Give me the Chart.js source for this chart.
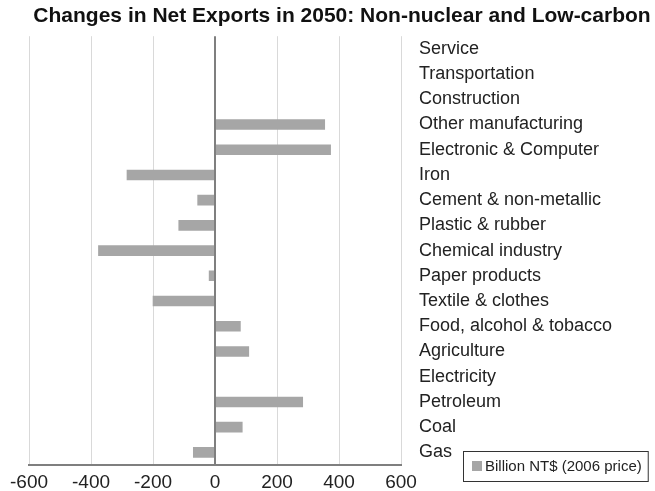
<!DOCTYPE html>
<html>
<head>
<meta charset="utf-8">
<script src="https://cdn.jsdelivr.net/npm/chart.js@4/dist/chart.umd.min.js"></script>
<style>
  html, body { margin: 0; padding: 0; background: #fff; }
  canvas { display: block; }
</style>
</head>
<body>
<canvas id="exportChart" width="655" height="491"></canvas>
<script>
const sectors = [
    'Service', 'Transportation', 'Construction', 'Other manufacturing',
    'Electronic & Computer', 'Iron', 'Cement & non-metallic', 'Plastic & rubber',
    'Chemical industry', 'Paper products', 'Textile & clothes',
    'Food, alcohol & tobacco', 'Agriculture', 'Electricity', 'Petroleum', 'Coal', 'Gas'
];
const netExports = [0, 0, 0, 355, 374, -285, -57, -118, -377, -20, -201, 83, 110, 0, 284, 89, -71];
const xTicks = [-600, -400, -200, 0, 200, 400, 600];
const seriesName = 'Billion NT$ (2006 price)';

const FONT = "'Liberation Sans', Arial, sans-serif";

// 범례 박스 (오른쪽 아래)
const boxLegend = {
    id: 'boxLegend',
    afterDraw(chart) {
        const c = chart.ctx;
        const ds = chart.data.datasets[0];
        c.save();
        c.font = '15px ' + FONT;
        const tw = c.measureText(ds.label).width;
        const x = 463, y = 451, h = 30;
        const w = tw + 28;
        c.fillStyle = '#fff';
        c.fillRect(x, y, w, h);
        c.strokeStyle = '#333';
        c.lineWidth = 1;
        c.strokeRect(x + 0.5, y + 0.5, w, h);
        c.fillStyle = ds.backgroundColor;
        c.fillRect(x + 9, y + 10, 10, 10);
        c.fillStyle = '#222';
        c.textBaseline = 'middle';
        c.fillText(ds.label, x + 22, y + h / 2 + 1);
        c.restore();
    }
};

new Chart(document.getElementById('exportChart'), {
    type: 'bar',
    data: {
        labels: sectors,
        datasets: [{
            label: seriesName,
            data: netExports,
            backgroundColor: '#a6a6a6',
            barPercentage: 0.42,
            categoryPercentage: 1.0
        }]
    },
    plugins: [boxLegend],
    options: {
        indexAxis: 'y',
        responsive: false,
        animation: false,
        devicePixelRatio: 1,
        layout: { padding: { left: 29, right: 0, top: 0, bottom: 0 } },
        plugins: {
            legend: { display: false },
            tooltip: { enabled: false },
            title: {
                display: true,
                text: 'Changes in Net Exports in 2050: Non-nuclear and Low-carbon',
                color: '#111',
                font: { family: FONT, size: 21, weight: 'bold' },
                padding: { top: 4, bottom: 7 }
            }
        },
        scales: {
            x: {
                min: -600,
                max: 600,
                afterBuildTicks(scale) {
                    scale.ticks = xTicks.map(v => ({ value: v }));
                },
                afterFit(scale) { scale.height = 26; },
                ticks: {
                    color: '#222',
                    font: { family: FONT, size: 19 },
                    padding: 6,
                    maxRotation: 0
                },
                grid: {
                    drawTicks: false,
                    color: ctx => ctx.tick && ctx.tick.value === 0 ? '#7f7f7f' : '#d9d9d9',
                    lineWidth: ctx => ctx.tick && ctx.tick.value === 0 ? 2 : 1
                },
                border: { display: true, color: '#7f7f7f', width: 2 }
            },
            y: {
                position: 'right',
                afterFit(scale) {
                    scale.width = 254;
                    scale.paddingTop = 0;
                    scale.paddingBottom = 0;
                },
                ticks: {
                    color: '#222',
                    font: { family: FONT, size: 18 },
                    padding: 18,
                    autoSkip: false
                },
                grid: { display: false, drawTicks: false },
                border: { display: false }
            }
        }
    }
});
</script>
</body>
</html>
